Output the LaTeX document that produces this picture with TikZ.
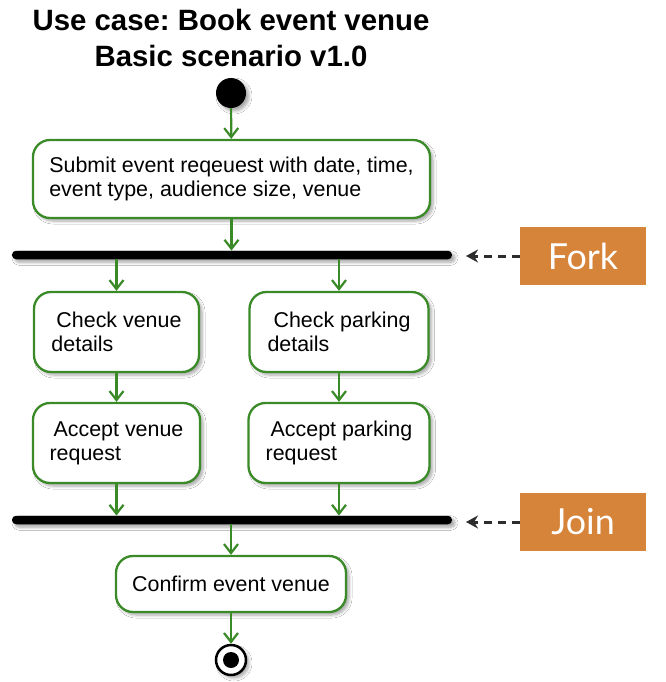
\documentclass[tikz,border=0pt]{standalone}
\usepackage{fontspec}
\setmainfont{Liberation Sans}
\newfontfamily\labelfont{Lato}
\usetikzlibrary{arrows.meta,shadows.blur}
\definecolor{umlgreen}{RGB}{58,138,40}
\definecolor{umlorange}{RGB}{214,132,58}
\definecolor{dashgray}{RGB}{45,45,45}
\tikzset{
  softshadow/.style={blur shadow={shadow xshift=3bp, shadow yshift=-3bp, shadow opacity=35, shadow blur steps=6, shadow blur radius=3bp}},
  act/.style={draw=umlgreen, line width=2.3bp, fill=white, rounded corners=17bp, align=left,
    font=\fontsize{21.5}{24}\selectfont, inner sep=0pt, softshadow},
  flow/.style={draw=umlgreen, line width=2.2bp, -{Straight Barb[length=9bp,width=14bp,line width=2.2bp]}},
  bar/.style={fill=black, rounded corners=4bp, minimum width=440bp, minimum height=8.5bp, inner sep=0pt, softshadow},
  tag/.style={fill=umlorange, minimum width=126bp, minimum height=58bp, text=white,
    font=\labelfont\fontsize{36}{40}\selectfont, inner sep=0pt},
  pointer/.style={draw=dashgray, line width=3bp, dash pattern=on 8bp off 6bp, -{Stealth[length=12bp,width=13bp]}},
}
\frenchspacing
\begin{document}
\frenchspacing
\begin{tikzpicture}[x=1bp,y=-1bp]
\useasboundingbox[fill=white] (0,0) rectangle (666,682);
\node[font=\bfseries\fontsize{29.5}{36}\selectfont, align=center, inner sep=0pt] (title) at (231,38) {Use case: Book event venue\\Basic scenario v1.0};
\node[circle, fill=black, minimum size=30bp, inner sep=0pt, softshadow] (start) at (231,93) {};
\node[act, minimum width=397bp, minimum height=78bp] (submit) at (231.5,179) {Submit event reqeuest with date, time,\\event type, audience size, venue};
\node[bar] (fork) at (232,255) {};
\node[tag] (forktag) at (583,256) {Fork};
\coordinate (forkpt) at (466,256);
\node[act, minimum width=165bp, minimum height=80bp] (cv) at (116.5,332) {\hspace*{5bp}Check venue\\details};
\node[act, minimum width=179bp, minimum height=80bp] (cp) at (339,332) {\hspace*{6bp}Check parking\\details};
\node[act, minimum width=167bp, minimum height=80bp] (av) at (116.5,443) {\hspace*{4bp}Accept venue\\request};
\node[act, minimum width=181bp, minimum height=80bp] (ap) at (339,443) {\hspace*{5bp}Accept parking\\request};
\node[bar] (join) at (232,520) {};
\node[tag] (jointag) at (583,522) {Join};
\coordinate (joinpt) at (466,522);
\node[act, minimum width=230bp, minimum height=56bp, align=center] (confirm) at (231,584) {Confirm event venue};
\node[circle, draw=black, line width=2.5bp, fill=white, minimum size=30bp, inner sep=0pt, softshadow] (stop) at (231,660) {};
\node[circle, fill=black, minimum size=16bp, inner sep=0pt] (stopdot) at (stop) {};
\draw[flow] (start) -- (submit);
\draw[flow] (submit.south) -- (submit.south |- fork.north);
\draw[flow] (fork.south -| cv.north) -- (cv.north);
\draw[flow] (fork.south -| cp.north) -- (cp.north);
\draw[flow] (cv) -- (av);
\draw[flow] (cp) -- (ap);
\draw[flow] (av.south) -- (av.south |- join.north);
\draw[flow] (ap.south) -- (ap.south |- join.north);
\draw[flow] (join.south -| confirm.north) -- (confirm.north);
\draw[flow] (confirm) -- (stop);
\draw[pointer] (forktag) -- (forkpt);
\draw[pointer] (jointag) -- (joinpt);
\end{tikzpicture}
\end{document}
